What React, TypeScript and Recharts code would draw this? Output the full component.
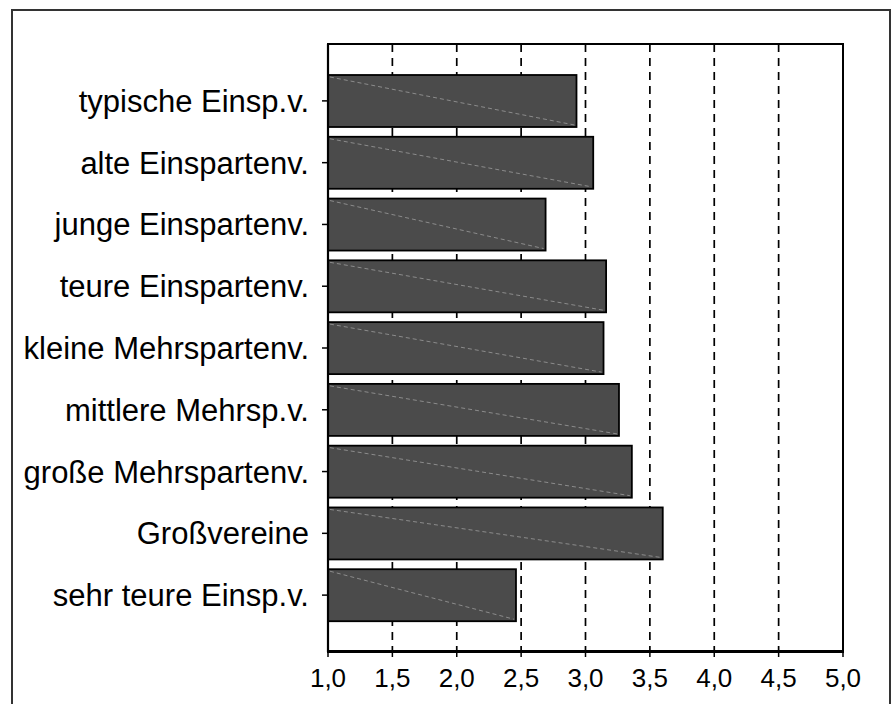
import React from 'react';
import { BarChart, Bar, XAxis, YAxis, CartesianGrid } from 'recharts';

const categories = [
  'typische Einsp.v.',
  'alte Einspartenv.',
  'junge Einspartenv.',
  'teure Einspartenv.',
  'kleine Mehrspartenv.',
  'mittlere Mehrsp.v.',
  'große Mehrspartenv.',
  'Großvereine',
  'sehr teure Einsp.v.',
];

const scores = [2.93, 3.06, 2.69, 3.16, 3.14, 3.26, 3.36, 3.6, 2.46];

const xTicks = [1, 1.5, 2, 2.5, 3, 3.5, 4, 4.5, 5];

const data = categories.map((name, i) => ({ name, value: scores[i] }));

const FONT = '"Liberation Sans", Arial, sans-serif';

const W = 895;
const H = 704;
const MARGIN = { top: 44, right: 52, bottom: 12, left: 8 };
const Y_AXIS_W = 320;
const X_AXIS_H = 40;

// plot box, derived from the chart margins and axis sizes
const plot = {
  left: MARGIN.left + Y_AXIS_W,
  top: MARGIN.top,
  width: W - MARGIN.left - Y_AXIS_W - MARGIN.right,
  height: H - MARGIN.top - MARGIN.bottom - X_AXIS_H,
};

// dark bar with a faint dashed diagonal running corner to corner
const DiagonalBar = (props: any) => {
  const { x, y, width, height } = props;
  if (width <= 0 || height <= 0) return null;
  return (
    <g>
      <rect x={x} y={y} width={width} height={height} fill="#4b4b4b" stroke="#000" strokeWidth={1.8} />
      <line
        x1={x + 2}
        y1={y + 2}
        x2={x + width - 2}
        y2={y + height - 2}
        stroke="#9c9c9c"
        strokeWidth={0.8}
        strokeDasharray="4 3"
      />
    </g>
  );
};

const axisLine = { stroke: '#000', strokeWidth: 2.2 };

export default function App() {
  return (
    <div
      style={{
        position: 'absolute',
        left: 0,
        top: 0,
        width: W,
        height: H,
        overflow: 'hidden',
        background: '#fff',
      }}
    >
      <div
        style={{
          position: 'absolute',
          left: 11,
          top: 9,
          width: 880,
          height: 710,
          border: '2px solid #333',
          boxSizing: 'border-box',
        }}
      />
      <BarChart
        width={W}
        height={H}
        data={data}
        layout="vertical"
        margin={MARGIN}
        style={{ position: 'absolute', left: 0, top: 0, fontFamily: FONT }}
      >
        <CartesianGrid
          vertical
          horizontal={false}
          stroke="#000"
          strokeWidth={1.7}
          strokeDasharray="8 6"
        />
        <XAxis
          type="number"
          domain={[1, 5]}
          ticks={xTicks}
          allowDataOverflow
          height={X_AXIS_H}
          tickFormatter={(v: number) => v.toFixed(1).replace('.', ',')}
          axisLine={axisLine}
          tickLine={{ stroke: '#000', strokeWidth: 1.5 }}
          tickSize={5}
          tickMargin={12}
          tick={{ fill: '#000', fontSize: 26, fontFamily: FONT }}
        />
        <YAxis
          type="category"
          dataKey="name"
          width={Y_AXIS_W}
          padding={{ top: 26, bottom: 26 }}
          axisLine={axisLine}
          tickLine={{ stroke: '#000', strokeWidth: 1.5 }}
          tickSize={6}
          tickMargin={13}
          interval={0}
          tick={{ fill: '#000', fontSize: 31, fontFamily: FONT }}
        />
        <Bar dataKey="value" barSize={52} shape={DiagonalBar} isAnimationActive={false} />
      </BarChart>
      {/* frame around the plot area */}
      <div
        style={{
          position: 'absolute',
          left: plot.left - 1,
          top: plot.top - 1,
          width: plot.width + 2,
          height: plot.height + 2,
          borderTop: '2px solid #000',
          borderRight: '2px solid #000',
          borderLeft: '2px solid #000',
          borderBottom: '3px solid #000',
          boxSizing: 'border-box',
          pointerEvents: 'none',
        }}
      />
    </div>
  );
}
